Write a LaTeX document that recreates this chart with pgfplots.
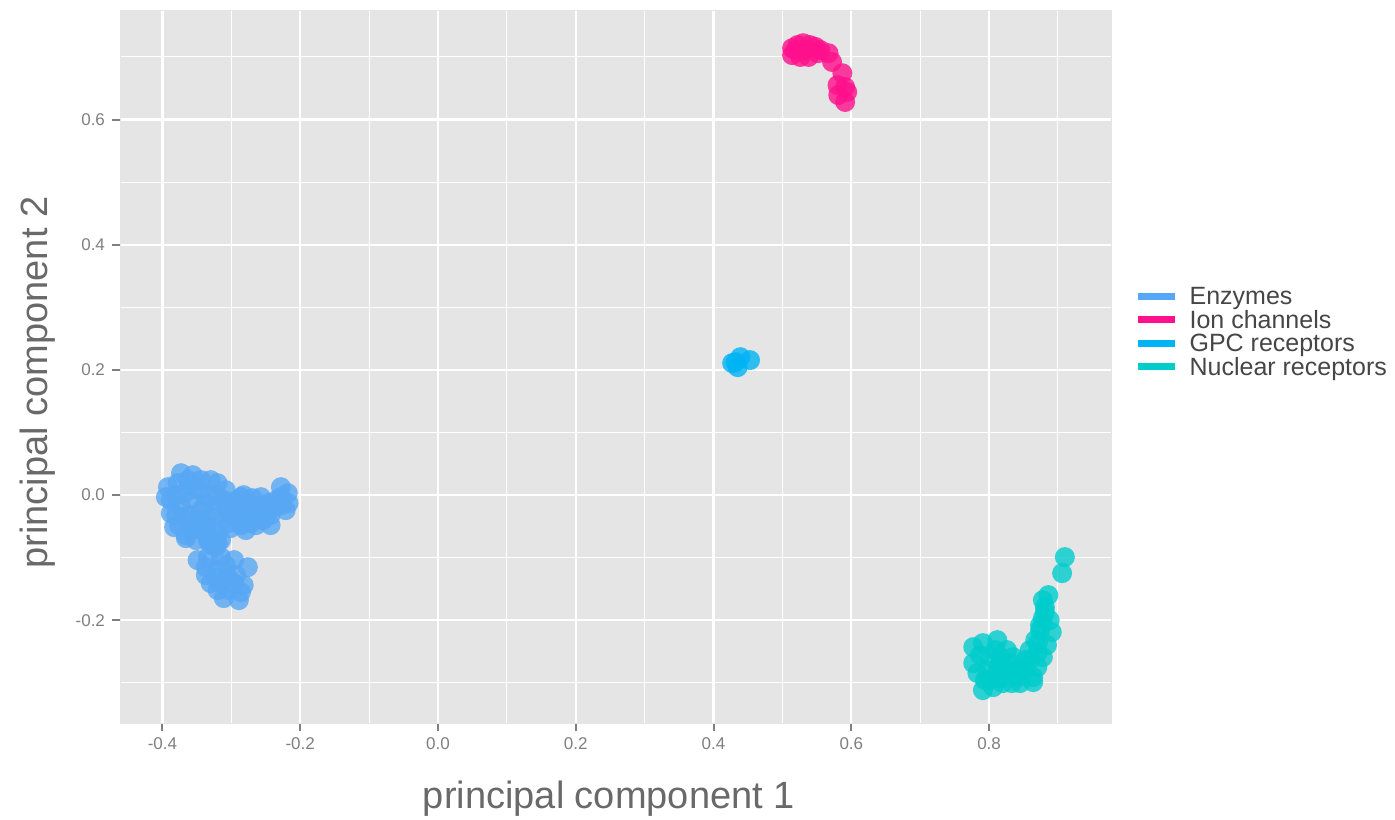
\documentclass[border=0pt]{standalone}
\usepackage{fontspec}
\setmainfont{Liberation Sans}
\usepackage{pgfplots}
\pgfplotsset{compat=1.18}

\definecolor{panel}{RGB}{229,229,229}
\definecolor{ticktext}{RGB}{127,127,127}
\definecolor{labeltext}{RGB}{105,105,105}
\definecolor{legtext}{RGB}{70,70,70}
\definecolor{enz}{RGB}{86,167,245}
\definecolor{ion}{RGB}{255,16,140}
\definecolor{gpc}{RGB}{0,180,245}
\definecolor{nuc}{RGB}{0,204,204}

\pgfplotsset{
  pcamarks/.style={only marks, mark=*, mark size=5pt, color=#1,
    mark options={draw opacity=0, line width=0pt, fill=#1, fill opacity=0.8},
    legend image code/.code={\draw[#1, line width=3.5pt, draw opacity=1] (0pt,1pt) -- (18.5pt,1pt);
      \path[draw=none] (18.5pt,1pt) -- (26pt,1pt);}},
}

\begin{document}
\begin{tikzpicture}
\useasboundingbox (-60pt,-48pt) rectangle (637.5pt,361.5pt);
\begin{axis}[
    at={(0,0)}, anchor=south west,
    scale only axis,
    width=495.85pt, height=356.5pt,
    xmin=-0.4616, xmax=0.978,
    ymin=-0.364, ymax=0.775,
    axis background/.style={fill=panel},
    axis line style={panel},
    xtick={-0.4,-0.2,0,0.2,0.4,0.6,0.8},
    ytick={-0.2,0,0.2,0.4,0.6},
    minor xtick={-0.3,-0.1,0.1,0.3,0.5,0.7,0.9},
    minor ytick={-0.3,-0.1,0.1,0.3,0.5,0.7},
    grid=both,
    major grid style={white, line width=1.1pt},
    minor grid style={white, line width=0.5pt},
    tick align=outside,
    major tick length=4pt,
    minor tick length=0pt,
    every tick/.style={ticktext, line width=1pt},
    xtick pos=left, ytick pos=left,
    /pgf/number format/assume math mode=true,
    /pgf/number format/.cd, fixed, fixed zerofill, precision=1, /pgfplots/.cd,
    ticklabel style={font=\fontsize{8.5}{10}\selectfont, text=ticktext},
    xlabel={principal component 1},
    ylabel={principal component 2},
    label style={font=\fontsize{19}{22}\selectfont, text=labeltext},
    xlabel style={at={([xshift=-3.5pt]axis description cs:0.5,0)}, anchor=center, yshift=-38pt},
    ylabel style={at={([xshift=-41pt,yshift=-8pt]axis description cs:0,0.5)}, anchor=center},
    legend cell align=left,
    legend style={at={(axis description cs:1,0.546)}, anchor=west, xshift=11pt,
        draw=none, fill=none, inner sep=0pt, row sep=0.75pt,
        font=\fontsize{12.5}{13}\selectfont, text=legtext,
        nodes={inner sep=0pt, text height=8.6pt, text depth=2.4pt}},
]

\addplot[pcamarks=enz]
coordinates {
(-0.373,0.0351) (-0.392,0.0128) (-0.395,-0.0032) (-0.388,-0.0288) (-0.383,-0.0511)
(-0.366,-0.0687) (-0.334,-0.0671) (-0.320,-0.0607) (-0.330,0.0240) (-0.320,0.0192)
(-0.305,-0.0240) (-0.286,-0.0032) (-0.282,0.0000) (-0.257,-0.0032) (-0.272,-0.0447)
(-0.243,-0.0479) (-0.228,0.0128) (-0.218,0.0032) (-0.217,-0.0128) (-0.238,-0.0192)
(-0.359,-0.0080) (-0.369,-0.0351) (-0.344,-0.0240) (-0.325,-0.0351) (-0.311,-0.0080)
(-0.296,-0.0351) (-0.286,-0.0240) (-0.272,-0.0192) (-0.334,-0.0032) (-0.354,0.0128)
(-0.363,0.0240) (-0.378,0.0192) (-0.325,-0.0511) (-0.305,-0.0447) (-0.262,-0.0288)
(-0.247,-0.0128) (-0.228,-0.0032)
(-0.380,0.0000) (-0.366,0.0048) (-0.347,0.0080) (-0.337,-0.0128) (-0.351,-0.0399)
(-0.337,-0.0479) (-0.322,-0.0208) (-0.308,-0.0160) (-0.301,-0.0527) (-0.286,-0.0479)
(-0.275,-0.0319) (-0.260,-0.0160) (-0.250,-0.0319) (-0.235,-0.0080) (-0.221,-0.0240)
(-0.373,-0.0160) (-0.359,-0.0559) (-0.344,-0.0559) (-0.388,-0.0080) (-0.376,-0.0479)
(-0.293,-0.0080) (-0.269,-0.0048) (-0.254,-0.0399) (-0.279,-0.0559) (-0.315,-0.0719)
(-0.330,-0.0799)
(-0.380,-0.0319) (-0.359,-0.0319) (-0.344,-0.0399) (-0.366,-0.0639) (-0.351,-0.0719)
(-0.301,-0.0319) (-0.264,-0.0479) (-0.243,-0.0319) (-0.228,-0.0160) (-0.344,0.0240)
(-0.356,0.0319) (-0.308,0.0080) (-0.322,0.0000)
(-0.349,-0.1038) (-0.334,-0.0990) (-0.315,-0.0990) (-0.296,-0.1038) (-0.276,-0.1150)
(-0.320,-0.1198) (-0.305,-0.1310) (-0.330,-0.1406) (-0.320,-0.1518) (-0.311,-0.1645)
(-0.289,-0.1677) (-0.282,-0.1438) (-0.296,-0.1406) (-0.315,-0.1406) (-0.322,-0.0831)
(-0.334,-0.0719) (-0.320,-0.0767)
(-0.337,-0.1150) (-0.308,-0.1118) (-0.293,-0.1278) (-0.322,-0.1326) (-0.304,-0.1518)
(-0.286,-0.1550) (-0.337,-0.1278)
};
\addlegendentry{Enzymes}

\addplot[pcamarks=ion]
coordinates {
(0.514,0.714) (0.522,0.719) (0.530,0.722) (0.540,0.719) (0.548,0.716)
(0.514,0.703) (0.526,0.700) (0.538,0.700) (0.551,0.706) (0.555,0.711)
(0.567,0.706) (0.572,0.692) (0.587,0.674) (0.580,0.655) (0.591,0.652)
(0.581,0.639) (0.591,0.628) (0.594,0.644) (0.533,0.711) (0.519,0.711)
};
\addlegendentry{Ion channels}

\addplot[pcamarks=gpc]
coordinates {
(0.432,0.2125) (0.439,0.2204) (0.435,0.2045) (0.453,0.2157) (0.427,0.2109)
};
\addlegendentry{GPC receptors}

\addplot[pcamarks=nuc]
coordinates {
(0.910,-0.0990) (0.906,-0.1246) (0.886,-0.1597) (0.881,-0.1790) (0.878,-0.1965)
(0.888,-0.1997) (0.874,-0.2157) (0.891,-0.2188) (0.871,-0.2364) (0.884,-0.2396)
(0.870,-0.2524) (0.878,-0.2588) (0.859,-0.2636) (0.870,-0.2748) (0.852,-0.2796)
(0.864,-0.2907) (0.842,-0.2907) (0.833,-0.3003) (0.845,-0.3003) (0.864,-0.2987)
(0.777,-0.2428) (0.791,-0.2364) (0.812,-0.2316) (0.783,-0.2843) (0.791,-0.3115)
(0.806,-0.3067) (0.820,-0.3003) (0.801,-0.2588) (0.816,-0.2588) (0.826,-0.2476)
(0.835,-0.2588) (0.797,-0.2796) (0.812,-0.2796) (0.826,-0.2796) (0.777,-0.2684)
(0.801,-0.2955)
(0.787,-0.2556) (0.809,-0.2476) (0.816,-0.2716) (0.830,-0.2684) (0.794,-0.2955)
(0.816,-0.2923) (0.838,-0.2875) (0.845,-0.2764) (0.852,-0.2636) (0.859,-0.2476)
(0.867,-0.2316) (0.874,-0.2077) (0.881,-0.1869) (0.878,-0.1677)
};
\addlegendentry{Nuclear receptors}

\end{axis}
\end{tikzpicture}
\end{document}
